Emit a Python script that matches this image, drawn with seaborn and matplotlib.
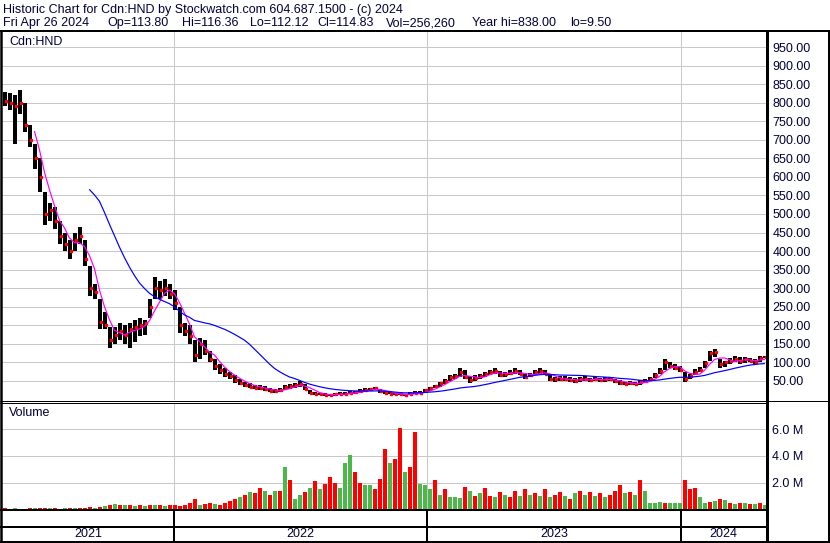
import numpy as np
import pandas as pd
import matplotlib
matplotlib.use("Agg")
import matplotlib.pyplot as plt
import seaborn as sns
from matplotlib.lines import Line2D

# ---------------- data (weekly estimates) ----------------
week_high = [830, 825, 820, 835, 800, 740, 690, 650, 560, 530, 520, 480, 450, 430, 450, 465,
             430, 360, 310, 270, 235, 195, 195, 205, 200, 205, 215, 220, 215, 270, 330, 320,
             325, 310, 295, 250, 205, 200, 160, 165, 160, 130, 110, 95, 85, 75, 65, 55,
             48, 45, 40, 38, 36, 30, 28, 30, 40, 42, 45, 50, 42, 26, 20, 18, 17, 16,
             18, 20, 20, 22, 24, 28, 30, 32, 35, 28, 22, 20, 18, 18, 16, 20, 22, 22,
             28, 34, 40, 48, 55, 65, 70, 85, 80, 62, 65, 70, 75, 80, 85, 78, 75, 80,
             85, 80, 70, 72, 80, 85, 80, 65, 60, 62, 62, 60, 58, 60, 62, 58, 60, 58,
             60, 60, 55, 52, 48, 50, 48, 52, 55, 60, 72, 85, 108, 100, 95, 90, 75, 70,
             82, 88, 105, 130, 135, 110, 105, 112, 118, 115, 115, 112, 110, 118, 116]
week_low = [790, 780, 690, 770, 720, 680, 620, 560, 470, 480, 460, 420, 400, 380, 400, 420,
            360, 280, 270, 190, 190, 140, 150, 160, 150, 140, 155, 170, 175, 220, 270, 270,
            280, 270, 240, 180, 170, 150, 100, 110, 120, 100, 80, 70, 60, 55, 45, 40,
            35, 30, 28, 25, 22, 20, 18, 20, 25, 28, 30, 35, 25, 14, 12, 11, 10, 9.5,
            10, 12, 12, 14, 15, 18, 20, 22, 25, 18, 15, 14, 12, 11, 10, 12, 14, 15,
            18, 24, 30, 35, 42, 50, 55, 60, 55, 45, 50, 55, 60, 65, 68, 60, 60, 65,
            70, 65, 55, 60, 65, 70, 65, 50, 48, 50, 50, 48, 45, 48, 50, 48, 50, 48,
            48, 50, 45, 40, 38, 40, 38, 40, 45, 50, 58, 68, 80, 85, 80, 75, 48, 55,
            65, 75, 85, 105, 115, 85, 88, 95, 100, 95, 98, 100, 95, 100, 112]
week_close = [805, 800, 790, 800, 740, 700, 650, 600, 500, 510, 480, 440, 420, 400, 430, 440,
              380, 300, 290, 210, 200, 160, 175, 185, 175, 190, 195, 200, 205, 250, 300, 295,
              300, 285, 260, 200, 185, 170, 120, 150, 130, 110, 90, 80, 70, 62, 52, 45,
              40, 35, 32, 30, 28, 24, 22, 25, 33, 36, 40, 42, 28, 18, 15, 14, 13, 12,
              14, 16, 15, 18, 20, 24, 26, 28, 30, 22, 18, 16, 14, 14, 12, 16, 18, 18,
              25, 30, 36, 44, 50, 60, 64, 75, 60, 52, 58, 64, 70, 74, 76, 66, 68, 72,
              78, 70, 60, 65, 74, 78, 70, 55, 54, 56, 55, 52, 50, 54, 56, 52, 55, 52,
              54, 55, 50, 44, 42, 45, 42, 46, 50, 55, 66, 78, 100, 90, 85, 80, 55, 62,
              75, 80, 98, 125, 128, 95, 100, 105, 110, 105, 108, 105, 100, 112, 114.83]
week_volume_m = [0.08, 0.06, 0.10, 0.07, 0.05, 0.08, 0.09, 0.10, 0.12, 0.10, 0.08, 0.07, 0.10,
                 0.09, 0.08, 0.10, 0.12, 0.15, 0.12, 0.20, 0.25, 0.35, 0.40, 0.30, 0.30, 0.35,
                 0.25, 0.30, 0.25, 0.30, 0.35, 0.30, 0.25, 0.30, 0.35, 0.25, 0.35, 0.50, 0.80,
                 0.35, 0.40, 0.45, 0.40, 0.30, 0.45, 0.60, 0.80, 0.90, 1.10, 1.30, 1.20, 1.60,
                 1.40, 1.10, 1.40, 1.40, 3.20, 2.20, 0.80, 1.10, 1.30, 1.60, 2.10, 1.50, 1.90,
                 2.40, 2.00, 1.60, 3.50, 4.10, 2.80, 2.00, 1.80, 1.80, 1.50, 2.30, 4.50, 3.50,
                 3.80, 6.10, 2.80, 3.20, 5.80, 1.90, 1.80, 1.50, 2.20, 1.10, 1.50, 0.90, 0.90,
                 0.85, 1.70, 1.40, 1.00, 1.20, 1.60, 1.00, 0.90, 1.30, 1.10, 0.90, 1.40, 1.00,
                 1.50, 1.10, 1.20, 1.00, 1.50, 0.90, 1.10, 1.30, 1.00, 0.80, 1.20, 1.40, 1.10,
                 1.30, 1.00, 1.20, 0.90, 1.10, 1.40, 1.80, 1.20, 1.30, 1.10, 2.20, 1.40, 0.50,
                 0.45, 0.55, 0.50, 0.45, 0.50, 0.50, 2.20, 1.50, 1.60, 0.90, 0.50, 0.55, 0.65,
                 0.80, 0.70, 0.45, 0.40, 0.50, 0.45, 0.40, 0.40, 0.50, 0.30]
# 1 = mostly up days (green), 0 = mostly down days (red)
week_up = [0, 0, 1, 0, 0, 0, 1, 0, 0, 1, 0, 0, 1, 0, 1, 0, 0, 0, 1,
           0, 1, 0, 1, 0, 1, 0, 1, 0, 1, 0, 1, 0, 1, 0, 0,
           0, 0, 0, 0, 1, 0, 0, 1, 0, 0, 0, 0, 1, 0, 1, 0, 0, 1, 0, 1, 0, 1, 0, 1,
           1, 0, 1, 0, 1, 0, 0, 0, 1, 1, 1, 0, 0, 1, 1, 0, 0, 0, 1, 0, 0, 1, 0, 0,
           1, 1, 1, 0, 1, 0, 1, 1, 1, 0,
           1, 0, 1, 0, 0, 1, 0, 1, 0, 0, 1, 0, 1,
           0, 1, 0, 1, 0, 0, 1, 0, 1, 0,
           1, 0, 1, 0, 1, 0, 0, 0, 1, 0, 1, 0, 1,
           1, 1, 1, 0, 1, 1, 1,
           0, 0, 0, 1, 1, 0, 1, 0, 1, 0, 1, 0, 1, 0, 1, 0, 1]

year_labels = ["2021", "2022", "2023", "2024"]
year_start_day = [0, 172, 425, 679]      # trading-day index of first bar in each year
last_day = 763.5
days_per_week = 5
price_ticks = list(range(50, 1000, 50))
volume_ticks_m = [2, 4, 6]

header_line1 = "Historic Chart for Cdn:HND by Stockwatch.com 604.687.1500 - (c) 2024"
header_items = ["Fri Apr 26 2024", "Op=113.80", "Hi=116.36", "Lo=112.12",
                "Cl=114.83", "Vol=256,260", "Year hi=838.00", "lo=9.50"]
symbol_label = "Cdn:HND"
volume_label = "Volume"

# ---------------- build table ----------------
df = pd.DataFrame({"high": week_high, "low": week_low, "close": week_close,
                   "volume": np.array(week_volume_m) * 1e6, "up": week_up})
df["day"] = df.index * days_per_week + 2.5
df["ma_short"] = df["close"].rolling(4, min_periods=4).mean()
df.loc[:5, "ma_short"] = np.nan
df["ma_long"] = df["close"].rolling(20, min_periods=18).mean()
df["vcolor"] = np.where(df["up"] == 1, "#4cb84c", "#ff0000")

# ---------------- figure ----------------
sns.set_theme(style="white")
plt.rcParams["font.family"] = ["Liberation Sans", "DejaVu Sans"]
W, H = 830, 543
fig = plt.figure(figsize=(W / 100, H / 100), dpi=100)
fig.patch.set_facecolor("white")
TXT = "#00003a"
FS = 9


def fx(px):
    return px / W


def fy(py):
    return 1 - py / H


def px_lw(p):
    return p * 72 / 100


X0, X1 = 2, 765.5
price_ax = fig.add_axes([fx(X0), fy(400), fx(X1) - fx(X0), fy(32) - fy(400)])
vol_ax = fig.add_axes([fx(X0), fy(509.5), fx(X1) - fx(X0), fy(403) - fy(509.5)])
date_ax = fig.add_axes([fx(X0), fy(541), fx(X1) - fx(X0), fy(510) - fy(541)])

for ax in (price_ax, vol_ax, date_ax):
    ax.set_facecolor("white")
    for s in ax.spines.values():
        s.set_visible(False)
    ax.set_xlim(0, last_day)
    ax.set_xticks([])

grid_c = "#c8c8c8"

# price panel
price_ax.set_ylim((400 - 399.5) / -0.371, (399.5 - 32) / 0.371)
price_ax.set_yticks(price_ticks)
price_ax.yaxis.tick_right()
price_ax.set_yticklabels([f"{t:.2f}" for t in price_ticks], color=TXT, fontsize=FS)
price_ax.tick_params(axis="y", length=0, pad=5)
price_ax.grid(axis="y", color=grid_c, lw=px_lw(1))
price_ax.grid(axis="x", visible=False)
for d in year_start_day[1:]:
    price_ax.axvline(d, color=grid_c, lw=px_lw(1), zorder=0)
price_ax.vlines(df["day"], df["low"], df["high"], color="black", lw=px_lw(4), zorder=2)
price_ax.plot(df["day"] + 1, df["close"], ls="none", marker="s", ms=1.8,
              mfc="#ff0000", mec="#ff0000", zorder=3)
sns.lineplot(data=df, x="day", y="ma_short", ax=price_ax, color="#ff00ff",
             lw=px_lw(1.2), zorder=4)
sns.lineplot(data=df, x="day", y="ma_long", ax=price_ax, color="#0000ff",
             lw=px_lw(1.2), zorder=4)
price_ax.set_xlabel("")
price_ax.set_ylabel("")
price_ax.set_xlim(0, last_day)
fig.text(fx(9), fy(42), symbol_label, ha="left", va="center", fontsize=FS, color=TXT)

# volume panel
vol_ax.set_ylim(0, (509.5 - 403) / 13.4 * 1e6)
vol_ax.set_yticks([v * 1e6 for v in volume_ticks_m])
vol_ax.yaxis.tick_right()
vol_ax.set_yticklabels([f"{v:.1f} M" for v in volume_ticks_m], color=TXT, fontsize=FS)
vol_ax.tick_params(axis="y", length=0, pad=5)
vol_ax.grid(axis="y", color=grid_c, lw=px_lw(1))
vol_ax.grid(axis="x", visible=False)
vol_ax.set_axisbelow(True)
for d in year_start_day[1:]:
    vol_ax.axvline(d, color=grid_c, lw=px_lw(1), zorder=0)
vol_ax.bar(df["day"], df["volume"], width=4.0, color=df["vcolor"], lw=0, zorder=2)
fig.text(fx(9), fy(413), volume_label, ha="left", va="center", fontsize=FS, color=TXT)

# date strip
date_ax.set_ylim(0, 1)
date_ax.set_yticks([])
bounds = year_start_day[1:]
for d in bounds:
    date_ax.axvline(d, color="black", lw=px_lw(2))
edges = [0] + bounds + [last_day]
for i, lab in enumerate(year_labels):
    date_ax.text((edges[i] + edges[i + 1]) / 2, (541 - 534) / 31, lab, ha="center",
                 va="center", fontsize=FS, color=TXT)


# frame lines (pixel layout)
def hline(y, x0, x1, w):
    fig.add_artist(Line2D([fx(x0), fx(x1)], [fy(y), fy(y)], color="black", lw=px_lw(w),
                          transform=fig.transFigure, solid_capstyle="butt"))


def vline(x, y0, y1, w):
    fig.add_artist(Line2D([fx(x), fx(x)], [fy(y0), fy(y1)], color="black", lw=px_lw(w),
                          transform=fig.transFigure, solid_capstyle="butt"))


hline(31, 0, 830, 2)
hline(400.5, 0, 830, 1)
hline(403, 0, 766, 1)
hline(510, 0, 766, 2)
hline(527, 0, 766, 2)
hline(541.5, 0, 830, 2)
vline(1, 30, 543, 2.5)
vline(766.5, 30, 543, 3)
vline(829, 30, 543, 2)

# header
fig.text(fx(3), fy(10), header_line1, ha="left", va="center", fontsize=FS, color=TXT)
header_x = [3, 107, 182, 250, 317, 386, 472, 570]
for xp, s in zip(header_x, header_items):
    fig.text(fx(xp), fy(23), s, ha="left", va="center", fontsize=FS, color=TXT)

fig.savefig("out.png", dpi=100, facecolor="white")
